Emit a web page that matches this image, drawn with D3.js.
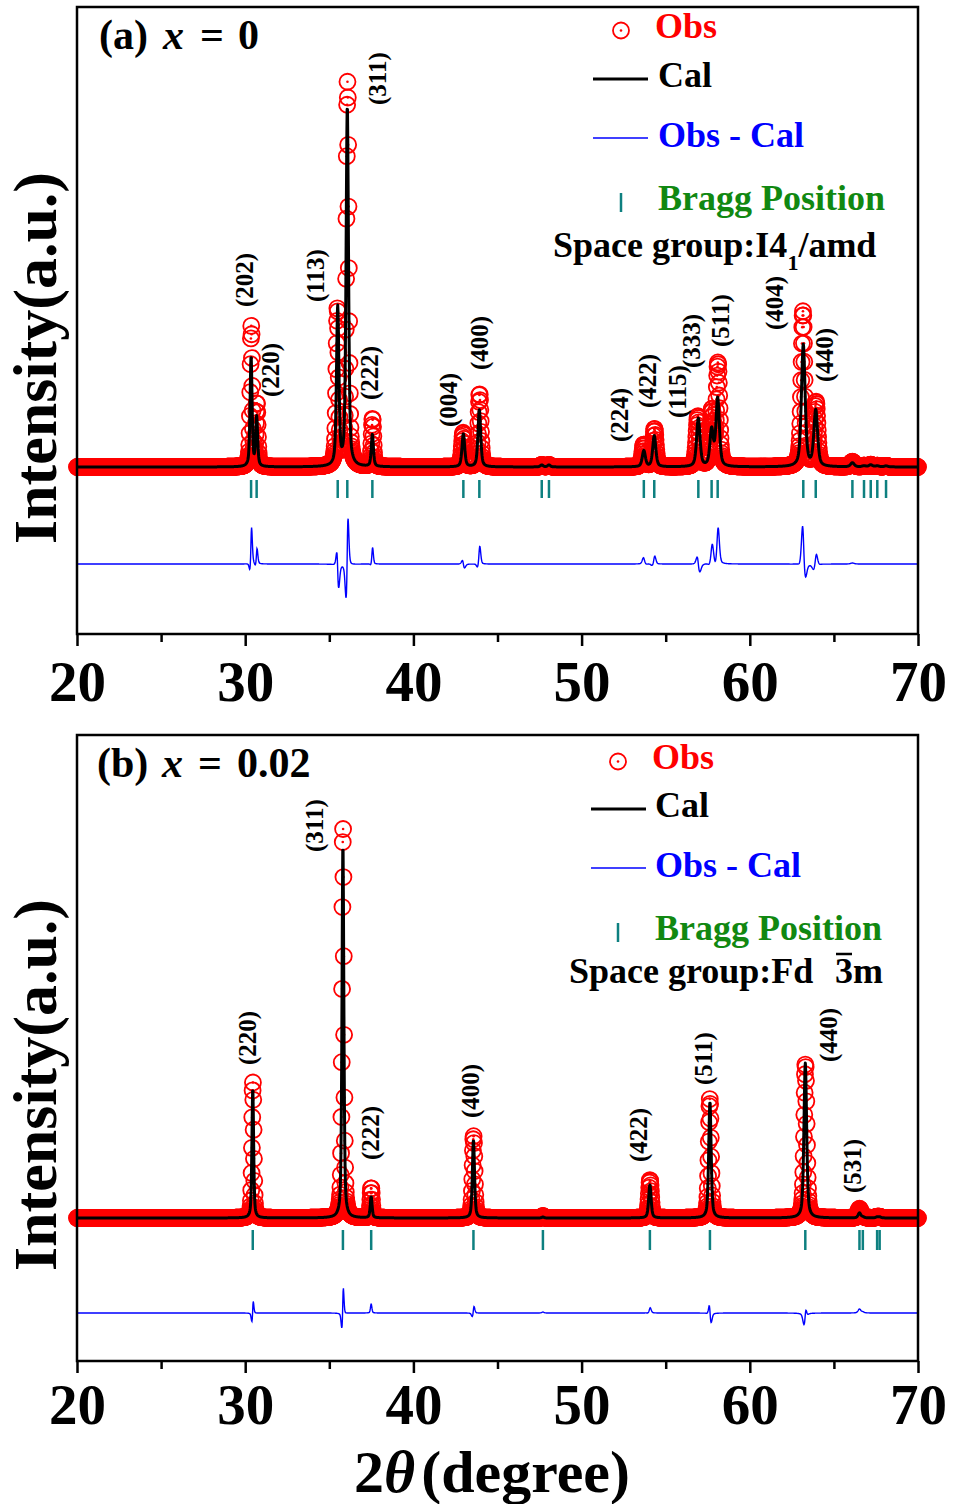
<!DOCTYPE html>
<html><head><meta charset="utf-8">
<script src="https://cdn.jsdelivr.net/npm/d3@7"></script>
<style>
body{margin:0;background:#fff}
svg{display:block}
text{font-family:"Liberation Serif","Times New Roman",serif;font-weight:bold}
</style>
</head><body>
<svg id="chart" width="953" height="1504"></svg>
<script>
// ---------------- data ----------------
const xTicks = [20, 30, 40, 50, 60, 70];
const xMinorTicks = [25, 35, 45, 55, 65];
const scanStart = 20, scanStep = 0.02, scanCount = 2501;

// Panel (a) x = 0, I4_1/amd
const braggA   = [30.35, 30.68, 35.50, 36.07, 37.56, 42.97, 43.92, 47.63, 48.06, 53.70, 54.32, 56.94, 57.73, 58.09, 63.18, 63.92, 66.10, 66.79, 67.19, 67.58, 68.10];
const calHA    = [110, 49, 158, 360, 32, 33, 57, 2, 2, 16, 31, 48, 36, 68, 122, 56, 4, 1, 2, 1, 1];
const obsHA    = [140, 62, 156, 384, 48, 34, 73, 2, 2, 22, 38, 50, 54, 102, 155, 64, 5, 1, 2, 1, 1];
const fwhmA    = [0.14, 0.14, 0.17, 0.17, 0.15, 0.19, 0.19, 0.2, 0.2, 0.22, 0.22, 0.24, 0.24, 0.24, 0.26, 0.26, 0.26, 0.26, 0.26, 0.26, 0.26];
const obsFwhmA = [0.13, 0.13, 0.16, 0.16, 0.13, 0.18, 0.17, 0.2, 0.2, 0.2, 0.2, 0.22, 0.22, 0.21, 0.22, 0.23, 0.26, 0.26, 0.26, 0.26, 0.26];
const shiftA   = [0.012, 0.01, -0.014, 0.012, 0.008, -0.015, 0.012, 0, 0, -0.01, 0.012, -0.025, 0.02, 0.015, -0.02, 0.015, 0, 0, 0, 0, 0];
const hklA     = ["(202)", "(220)", "(113)", "(311)", "(222)", "(004)", "(400)", "(224)", "(422)", "(115)", "(333)", "(511)", "(404)", "(440)"];
const hklAX    = [247, 273, 318, 380, 372, 451, 482, 622, 650, 680, 694, 723, 777, 827];
const hklAY    = [307, 397, 302, 105, 400, 427, 370, 442, 408, 418, 368, 347, 330, 382];

// Panel (b) x = 0.02, Fd-3m
const braggB   = [30.45, 35.81, 37.49, 43.57, 47.70, 54.06, 57.63, 63.30, 66.52, 66.72, 67.57, 67.72];
const calHB    = [130, 375, 21, 78, 1, 33, 116, 155, 5, 1, 1, 1];
const obsHB    = [136, 392, 30, 82, 2, 38, 119, 154, 9, 2, 1, 1];
const fwhmB    = [0.12, 0.13, 0.13, 0.15, 0.15, 0.17, 0.17, 0.19, 0.19, 0.19, 0.19, 0.19];
const obsFwhmB = [0.115, 0.125, 0.12, 0.145, 0.15, 0.165, 0.16, 0.18, 0.19, 0.19, 0.19, 0.19];
const shiftB   = [0.006, 0.004, 0, 0.006, 0, 0.004, -0.008, 0.006, 0, 0, 0, 0];
const hklB     = ["(220)", "(311)", "(222)", "(400)", "(422)", "(511)", "(440)", "(531)"];
const hklBX    = [250, 317, 373, 473, 641, 706, 831, 855];
const hklBY    = [1065, 852, 1160, 1118, 1162, 1085, 1062, 1193];

// ---------------- helpers ----------------
const svg = d3.select("#chart");
const scan = d3.range(scanCount).map(i => scanStart + i * scanStep);
const x = d3.scaleLinear().domain([20, 70]).range([77, 918]);

function pv(t, c, w) {
  const z = (t - c) / w;
  return 0.5 / (1 + 4 * z * z) + 0.5 * Math.exp(-4 * Math.LN2 * z * z);
}
function profile(pos, H, W, shift) {
  return scan.map(t => {
    let s = 0;
    for (let i = 0; i < pos.length; i++) s += H[i] * pv(t, pos[i] + (shift ? shift[i] : 0), W[i]);
    return s;
  });
}

function panel(cfg) {
  const y = d3.scaleLinear().domain(cfg.yDomain).range([cfg.bottom, cfg.top]);
  const g = svg.append("g");
  const obs = profile(cfg.bragg, cfg.obsH, cfg.obsFwhm, cfg.shift);
  const cal = profile(cfg.bragg, cfg.calH, cfg.fwhm, null);
  const pts = scan.map((t, i) => ({t, obs: obs[i], cal: cal[i], diff: obs[i] - cal[i]}));

  // observed
  g.append("g").selectAll("circle").data(pts).join("circle")
    .attr("cx", d => x(d.t)).attr("cy", d => y(d.obs)).attr("r", 8)
    .attr("fill", "none").attr("stroke", "#ff0000").attr("stroke-width", 1.8);
  g.append("g").selectAll("circle").data(pts).join("circle")
    .attr("cx", d => x(d.t)).attr("cy", d => y(d.obs)).attr("r", 1.3)
    .attr("fill", "#ff0000");
  // calculated
  g.append("path").datum(pts)
    .attr("d", d3.line().x(d => x(d.t)).y(d => y(d.cal)))
    .attr("fill", "none").attr("stroke", "#000").attr("stroke-width", 3)
    .attr("stroke-linejoin", "round");
  // bragg
  g.append("g").selectAll("line").data(cfg.bragg).join("line")
    .attr("x1", d => x(d)).attr("x2", d => x(d))
    .attr("y1", y(cfg.braggRange[0])).attr("y2", y(cfg.braggRange[1]))
    .attr("stroke", "#0e8080").attr("stroke-width", 2.5);
  // difference
  g.append("path").datum(pts)
    .attr("d", d3.line().x(d => x(d.t)).y(d => y(d.diff + cfg.diffOffset)))
    .attr("fill", "none").attr("stroke", "#0000ff").attr("stroke-width", 1.4);

  // hkl labels
  g.append("g").selectAll("text").data(cfg.hkl).join("text")
    .attr("transform", (d, i) => `translate(${cfg.hklX[i] + 5.9},${cfg.hklY[i]}) rotate(-90)`)
    .attr("font-size", 25).attr("fill", "#000").text(d => d);

  // frame
  g.append("rect").attr("x", 77).attr("y", cfg.top).attr("width", 841).attr("height", cfg.bottom - cfg.top)
    .attr("fill", "none").attr("stroke", "#000").attr("stroke-width", 2.5);

  // axes
  const ax = g.append("g").attr("transform", `translate(0,${cfg.bottom})`)
    .call(d3.axisBottom(x).tickValues(xTicks).tickSize(12).tickPadding(cfg.pad).tickFormat(d3.format("d")));
  ax.select(".domain").remove();
  ax.selectAll("line").attr("stroke-width", 2.5);
  ax.selectAll("text").attr("font-size", 57).attr("font-family", "Liberation Serif").attr("font-weight", "bold").attr("fill", "#000");
  const axm = g.append("g").attr("transform", `translate(0,${cfg.bottom})`)
    .call(d3.axisBottom(x).tickValues(xMinorTicks).tickSize(8).tickFormat(""));
  axm.select(".domain").remove();
  axm.selectAll("line").attr("stroke-width", 2.5);

  // y label
  g.append("text").attr("transform", `translate(56,${cfg.ylabelY}) rotate(-90)`)
    .attr("text-anchor", "middle").attr("font-size", 62).attr("fill", "#000").text("Intensity(a.u.)");

  // title
  const tt = g.append("text").attr("y", cfg.titleY).attr("font-size", 42).attr("fill", "#000");
  tt.append("tspan").attr("x", cfg.titleX[0]).text(cfg.title[0]);
  tt.append("tspan").attr("x", cfg.titleX[1]).attr("font-style", "italic").text("x");
  tt.append("tspan").attr("x", cfg.titleX[2]).text("=");
  tt.append("tspan").attr("x", cfg.titleX[3]).text(cfg.title[1]);

  // legend
  const L = cfg.leg;
  g.append("circle").attr("cx", L.cx).attr("cy", L.obsY - 7.5).attr("r", 8).attr("fill", "none").attr("stroke", "#ff0000").attr("stroke-width", 1.8);
  g.append("circle").attr("cx", L.cx).attr("cy", L.obsY - 7.5).attr("r", 1.3).attr("fill", "#ff0000");
  g.append("text").attr("x", L.tx0).attr("y", L.obsY).attr("font-size", 36).attr("fill", "#ff0000").text("Obs");
  g.append("line").attr("x1", L.lx1).attr("x2", L.lx2).attr("y1", L.calY - 8).attr("y2", L.calY - 8).attr("stroke", "#000").attr("stroke-width", 3);
  g.append("text").attr("x", L.tx).attr("y", L.calY).attr("font-size", 36).attr("fill", "#000").text("Cal");
  g.append("line").attr("x1", L.lx1).attr("x2", L.lx2).attr("y1", L.difY - 9).attr("y2", L.difY - 9).attr("stroke", "#0000ff").attr("stroke-width", 1.4);
  g.append("text").attr("x", L.tx).attr("y", L.difY).attr("font-size", 36).attr("fill", "#0000ff").text("Obs - Cal");
  g.append("line").attr("x1", L.cx).attr("x2", L.cx).attr("y1", L.brY - 17).attr("y2", L.brY + 2).attr("stroke", "#0e8080").attr("stroke-width", 2.5);
  g.append("text").attr("x", L.tx).attr("y", L.brY).attr("font-size", 36).attr("fill", "#118811").text("Bragg Position");
  cfg.spaceGroup(g);
}

panel({
  top: 7, bottom: 634, yDomain: [-167, 460], diffOffset: -97, braggRange: [-13, -31], pad: 15,
  bragg: braggA, calH: calHA, obsH: obsHA, fwhm: fwhmA, obsFwhm: obsFwhmA, shift: shiftA,
  hkl: hklA, hklX: hklAX, hklY: hklAY, ylabelY: 358,
  title: ["(a)", "0"], titleX: [99, 163, 200, 238], titleY: 49,
  leg: {cx: 621, obsY: 38, tx0: 655, tx: 658, lx1: 593, lx2: 648, calY: 87, difY: 147, brY: 210},
  spaceGroup: g => {
    const t = g.append("text").attr("x", 553).attr("y", 257).attr("font-size", 36).attr("fill", "#000");
    t.append("tspan").text("Space group:I4");
    t.append("tspan").attr("font-size", 22).attr("dy", 13).text("1");
    t.append("tspan").attr("dy", -13).text("/amd");
  }
});

panel({
  top: 735, bottom: 1361, yDomain: [-143, 483], diffOffset: -95, braggRange: [-12, -32], pad: 11,
  bragg: braggB, calH: calHB, obsH: obsHB, fwhm: fwhmB, obsFwhm: obsFwhmB, shift: shiftB,
  hkl: hklB, hklX: hklBX, hklY: hklBY, ylabelY: 1085,
  title: ["(b)", "0.02"], titleX: [97, 162, 198, 237], titleY: 777,
  leg: {cx: 618, obsY: 769, tx0: 652, tx: 655, lx1: 591, lx2: 646, calY: 817, difY: 877, brY: 940},
  spaceGroup: g => {
    const t = g.append("text").attr("x", 569).attr("y", 983).attr("font-size", 36).attr("fill", "#000");
    t.append("tspan").text("Space group:Fd");
    t.append("tspan").attr("x", 835).text("3");
    t.append("tspan").text("m");
    const e = t.node().getExtentOfChar(14);
    g.append("line").attr("x1", e.x + 1).attr("x2", e.x + e.width - 1).attr("y1", 954).attr("y2", 954)
      .attr("stroke", "#000").attr("stroke-width", 2.5);
  }
});

// x axis title
const xt = svg.append("text").attr("x", 492).attr("y", 1492).attr("text-anchor", "middle").attr("font-size", 60).attr("fill", "#000");
xt.append("tspan").text("2");
xt.append("tspan").attr("font-style", "italic").text("θ");
xt.append("tspan").attr("dx", 6).text("(degree)");
</script>
</body></html>
